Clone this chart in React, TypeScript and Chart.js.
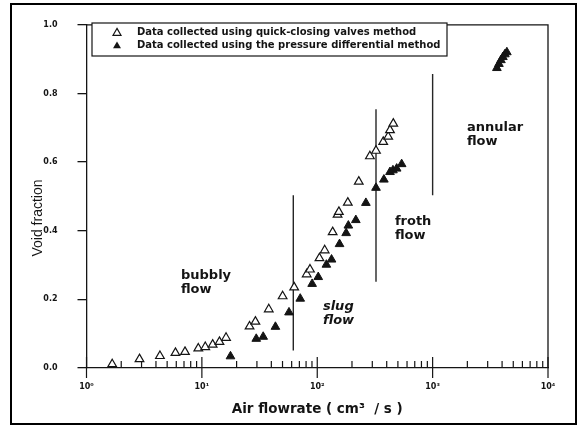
import React, { useEffect, useRef } from 'react';
import { Chart, registerables } from 'chart.js';

Chart.register(...registerables);

// ---- data ----
const quickFlow = [1.67, 2.88, 4.33, 5.9, 7.14, 9.31, 10.7, 12.4, 14.2, 16.2, 25.9, 29.1, 38.0, 50.1, 63.1, 81.0, 86.5, 104.5, 116, 136, 150, 154, 184, 229, 286, 323, 373, 412, 427, 456];
const quickVoid = [0.011, 0.026, 0.035, 0.044, 0.047, 0.057, 0.061, 0.068, 0.076, 0.088, 0.121, 0.135, 0.171, 0.209, 0.235, 0.273, 0.287, 0.320, 0.343, 0.396, 0.447, 0.455, 0.482, 0.543, 0.617, 0.633, 0.659, 0.674, 0.693, 0.712];

const pressFlow = [17.7, 29.6, 34.0, 43.4, 56.9, 71.2, 90.3, 102, 120, 133, 156, 178, 186, 216, 264, 323, 378, 427, 453, 488, 539, 3606, 3756, 3910, 4065, 4229, 4400];
const pressVoid = [0.034, 0.085, 0.091, 0.120, 0.162, 0.202, 0.245, 0.265, 0.301, 0.316, 0.361, 0.393, 0.415, 0.431, 0.481, 0.525, 0.549, 0.571, 0.576, 0.581, 0.594, 0.874, 0.886, 0.897, 0.906, 0.914, 0.92];

const boundaryFlow = [62, 323, 1000];
const boundaryLow = [0.051, 0.251, 0.503];
const boundaryHigh = [0.503, 0.754, 0.857];

const regionNames = [['bubbly', 'flow'], ['slug', 'flow'], ['froth', 'flow'], ['annular', 'flow']];
const regionFlow = [6.59, 112, 471, 1982];
const regionVoid = [0.26, 0.169, 0.417, 0.691];
const regionItalic = [false, true, false, false];

const xTickValues = [1, 10, 100, 1000, 10000];
const xTickLabels = ['10\u2070', '10\u00b9', '10\u00b2', '10\u00b3', '10\u2074'];
const yTickValues = [0, 0.2, 0.4, 0.6, 0.8, 1.0];

const seriesLabels = ['Data collected using quick-closing valves method', 'Data collected using the pressure differential method'];
const xTitle = 'Air flowrate ( cm\u00b3  / s )';
const yTitle = 'Void fraction';

const INK = '#141414';
const FONT = "'DejaVu Sans', sans-serif";

function triangle(ctx: CanvasRenderingContext2D, x: number, y: number, r: number, filled: boolean) {
  ctx.beginPath();
  let rad = 0;
  ctx.moveTo(x + Math.sin(rad) * r, y - Math.cos(rad) * r);
  rad += (2 * Math.PI) / 3;
  ctx.lineTo(x + Math.sin(rad) * r, y - Math.cos(rad) * r);
  rad += (2 * Math.PI) / 3;
  ctx.lineTo(x + Math.sin(rad) * r, y - Math.cos(rad) * r);
  ctx.closePath();
  if (filled) {
    ctx.fillStyle = INK;
    ctx.fill();
  } else {
    ctx.fillStyle = '#fff';
    ctx.fill();
    ctx.lineWidth = 1.2;
    ctx.strokeStyle = INK;
    ctx.stroke();
  }
}

const decorations = {
  id: 'decorations',
  beforeDraw(chart: any) {
    const ctx = chart.ctx as CanvasRenderingContext2D;
    ctx.save();
    ctx.strokeStyle = '#000';
    ctx.lineWidth = 2;
    ctx.strokeRect(11, 4, 565, 420);
    ctx.restore();
  },
  afterDraw(chart: any) {
    const ctx = chart.ctx as CanvasRenderingContext2D;
    const a = chart.chartArea;
    const xs = chart.scales.x;
    const ys = chart.scales.y;
    ctx.save();
    ctx.strokeStyle = INK;
    ctx.lineWidth = 1.3;
    // frame top & right
    ctx.beginPath();
    ctx.moveTo(a.left, a.top);
    ctx.lineTo(a.right, a.top);
    ctx.lineTo(a.right, a.bottom);
    ctx.stroke();
    // x tick marks
    ctx.lineWidth = 1.2;
    for (let d = 0; d <= 4; d++) {
      for (let k = 1; k <= 9; k++) {
        if (d === 4 && k > 1) break;
        const px = xs.getPixelForValue(k * Math.pow(10, d));
        ctx.beginPath();
        if (k === 1) {
          ctx.moveTo(px, a.bottom - 11);
          ctx.lineTo(px, a.bottom + 10);
        } else {
          ctx.moveTo(px, a.bottom);
          ctx.lineTo(px, a.bottom - 7);
        }
        ctx.stroke();
      }
    }
    // y title
    ctx.fillStyle = INK;
    ctx.font = "14px 'Liberation Sans', Arial, sans-serif";
    ctx.textAlign = 'center';
    ctx.textBaseline = 'middle';
    ctx.save();
    ctx.translate(38, 218);
    ctx.rotate(-Math.PI / 2);
    ctx.fillText(yTitle, 0, 0);
    ctx.restore();
    // region labels
    ctx.textAlign = 'left';
    ctx.textBaseline = 'alphabetic';
    regionNames.forEach((lines, i) => {
      const px = xs.getPixelForValue(regionFlow[i]);
      const py = ys.getPixelForValue(regionVoid[i]);
      ctx.font = (regionItalic[i] ? 'italic ' : '') + 'bold 13px ' + FONT;
      lines.forEach((t, j) => ctx.fillText(t, px, py + j * 14.5));
    });
    // legend box
    const bx = 92, by = 23, bw = 355, bh = 33;
    ctx.fillStyle = '#fff';
    ctx.fillRect(bx, by, bw, bh);
    ctx.lineWidth = 1.2;
    ctx.strokeStyle = INK;
    ctx.strokeRect(bx, by, bw, bh);
    seriesLabels.forEach((t, i) => {
      const cy = by + 9 + i * 13;
      triangle(ctx, 117, cy + 1, 4.6, i === 1);
      ctx.fillStyle = INK;
      ctx.font = 'bold 10px ' + FONT;
      ctx.textBaseline = 'middle';
      ctx.fillText(t, 137, cy);
    });
    ctx.restore();
  },
};

export default function App() {
  const ref = useRef<HTMLCanvasElement | null>(null);
  useEffect(() => {
    if (!ref.current) return;
    const lineSets = boundaryFlow.map((f, i) => ({
      type: 'line' as const,
      label: 'boundary' + i,
      data: [
        { x: f, y: boundaryLow[i] },
        { x: f, y: boundaryHigh[i] },
      ],
      borderColor: '#262626',
      borderWidth: 1.4,
      pointRadius: 0,
      showLine: true,
      fill: false,
    }));
    const chart = new Chart(ref.current, {
      type: 'scatter',
      data: {
        datasets: [
          {
            label: seriesLabels[0],
            data: quickFlow.map((x, i) => ({ x, y: quickVoid[i] })),
            pointStyle: 'triangle',
            pointRadius: 5,
            pointBackgroundColor: '#ffffff',
            pointBorderColor: INK,
            pointBorderWidth: 1.2,
          },
          {
            label: seriesLabels[1],
            data: pressFlow.map((x, i) => ({ x, y: pressVoid[i] })),
            pointStyle: 'triangle',
            pointRadius: 5,
            pointBackgroundColor: INK,
            pointBorderColor: INK,
            pointBorderWidth: 1,
          },
          ...lineSets,
        ] as any,
      },
      options: {
        animation: false,
        responsive: false,
        events: [],
        layout: { padding: { left: 0, right: 38, top: 19, bottom: 0 } },
        plugins: { legend: { display: false }, tooltip: { enabled: false } },
        scales: {
          x: {
            type: 'logarithmic',
            min: 1,
            max: 10000,
            afterBuildTicks: (s: any) => {
              s.ticks = xTickValues.map((v) => ({ value: v }));
            },
            afterFit: (s: any) => {
              s.height = 62;
            },
            ticks: {
              autoSkip: false,
              maxRotation: 0,
              padding: 6,
              color: INK,
              font: { family: FONT, size: 8, weight: 'bold' },
              callback: (v: any) => {
                const idx = xTickValues.indexOf(Number(v));
                return idx >= 0 ? xTickLabels[idx] : '';
              },
            },
            grid: { display: false },
            border: { display: true, color: INK, width: 1.3 },
            title: {
              display: true,
              text: xTitle,
              color: INK,
              font: { family: FONT, size: 13.5, weight: 'bold' },
              padding: { top: 0, bottom: 12 },
            },
          },
          y: {
            type: 'linear',
            min: 0,
            max: 1,
            afterBuildTicks: (s: any) => {
              s.ticks = yTickValues.map((v) => ({ value: v }));
            },
            afterFit: (s: any) => {
              s.width = 86.5;
            },
            ticks: {
              padding: 20,
              color: INK,
              font: { family: FONT, size: 8, weight: 'bold' },
              callback: (v: any) => Number(v).toFixed(1),
            },
            grid: { display: true, drawOnChartArea: false, drawTicks: true, tickLength: 9, color: INK, lineWidth: 1.3 },
            border: { display: true, color: INK, width: 1.3 },
          },
        },
      } as any,
      plugins: [decorations],
    });
    return () => chart.destroy();
  }, []);
  return (
    <div style={{ position: 'absolute', left: 0, top: 0, width: 586, height: 430 }}>
      <canvas ref={ref} width={586} height={430} style={{ width: 586, height: 430, display: 'block' }} />
    </div>
  );
}
